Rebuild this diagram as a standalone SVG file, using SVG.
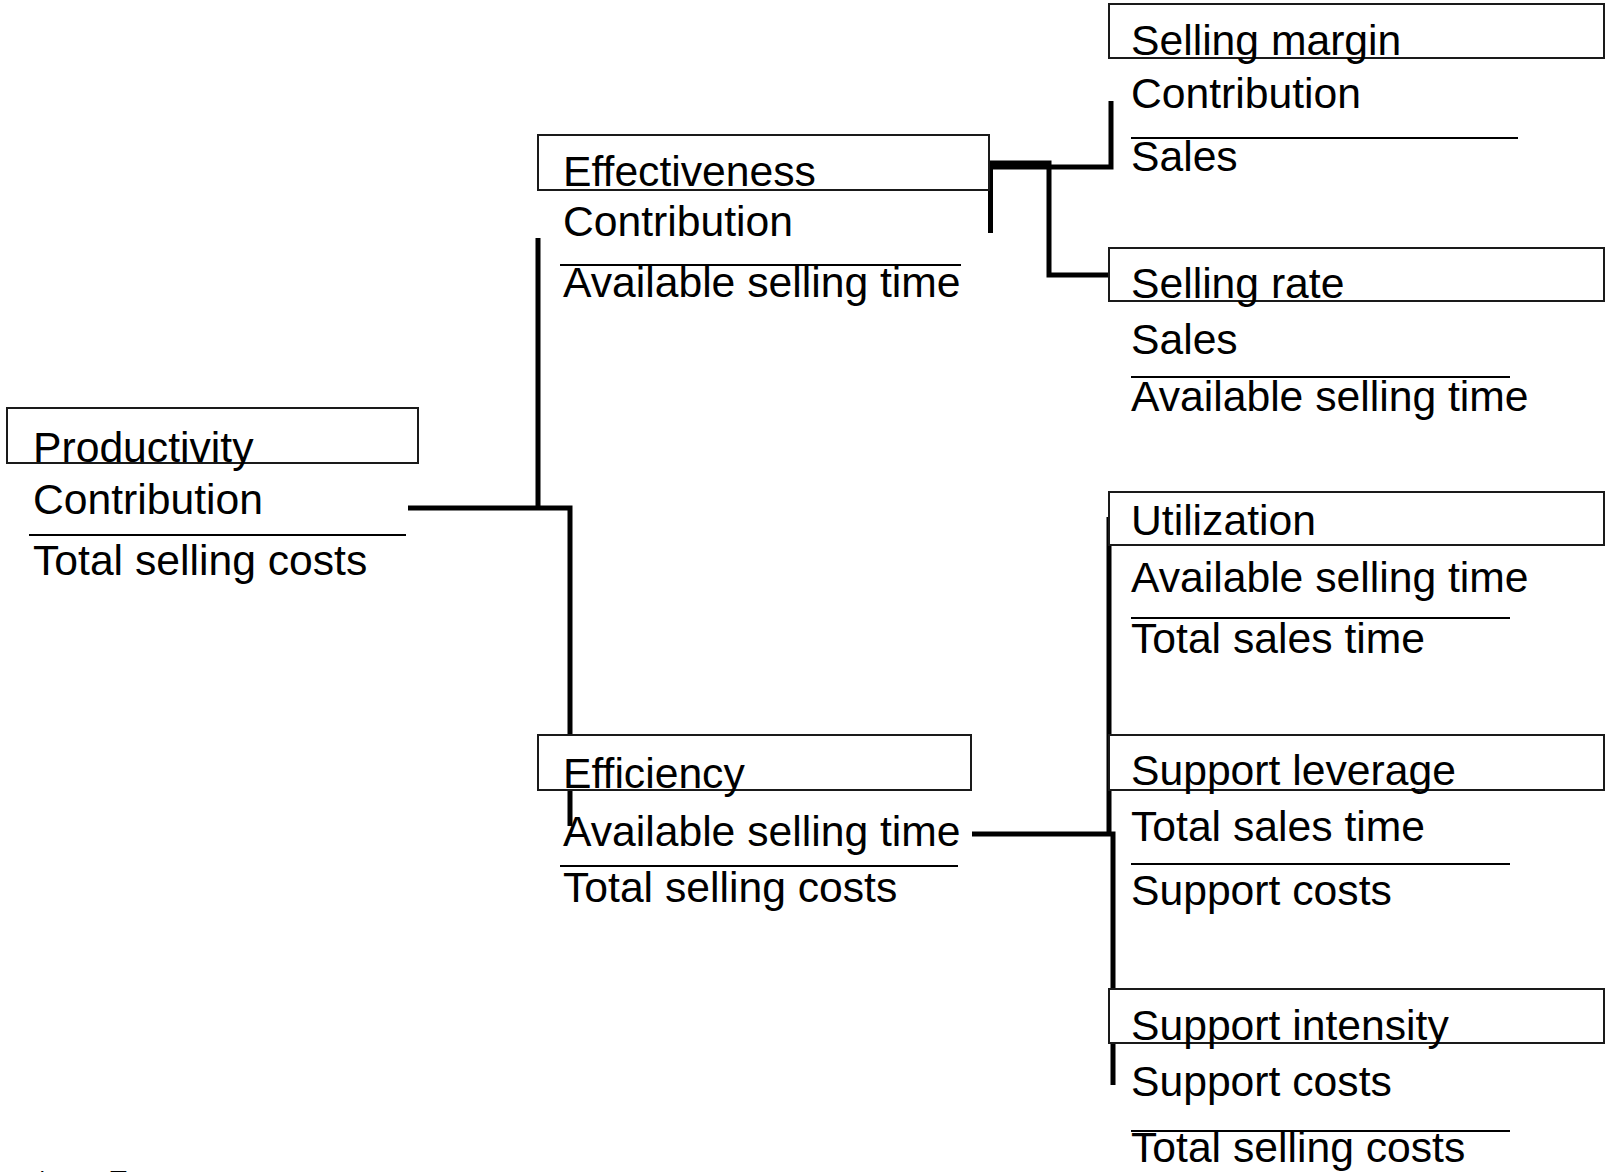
<svg xmlns="http://www.w3.org/2000/svg" width="1608" height="1172" viewBox="0 0 1608 1172">
<style>
.box{fill:#fff;stroke:#1a1a1a;stroke-width:2}
.t{font-family:"Liberation Sans",Arial,sans-serif;font-size:42.67px;fill:#000}
.fn{font-family:"Liberation Sans",Arial,sans-serif;font-size:32px;fill:#000}
.frac{stroke:#000;stroke-width:2}
.conn{fill:none;stroke:#000;stroke-width:5}
</style>
<rect width="1608" height="1172" fill="#fff"/>
<g id="connectors">
<path class="conn" d="M408,508 H570 V826"/>
<path class="conn" d="M538,238 V508"/>
<path class="conn" d="M990.5,233 V163 H1049 V275 H1109"/>
<path class="conn" d="M990,167 H1111 V101"/>
<path class="conn" d="M972,834 H1113 V1085"/>
<path class="conn" d="M1109,517 V834"/>
</g>
<g id="productivity">
<rect class="box" x="7" y="408" width="411" height="55"/>
<text class="t" x="33" y="462">Productivity</text>
<text class="t" x="33" y="514">Contribution</text>
<line class="frac" x1="29" y1="535" x2="406" y2="535"/>
<text class="t" x="33" y="575">Total selling costs</text>
</g>
<g id="effectiveness">
<rect class="box" x="538" y="135" width="451" height="55"/>
<text class="t" x="563" y="186">Effectiveness</text>
<text class="t" x="563" y="236">Contribution</text>
<line class="frac" x1="560" y1="265" x2="961" y2="265"/>
<text class="t" x="563" y="297">Available selling time</text>
</g>
<g id="efficiency">
<rect class="box" x="538" y="735" width="433" height="55"/>
<text class="t" x="563" y="788">Efficiency</text>
<text class="t" x="563" y="846">Available selling time</text>
<line class="frac" x1="560" y1="866" x2="958" y2="866"/>
<text class="t" x="563" y="902">Total selling costs</text>
</g>
<g id="selling-margin">
<rect class="box" x="1109" y="4" width="495" height="54"/>
<text class="t" x="1131" y="55">Selling margin</text>
<text class="t" x="1131" y="108">Contribution</text>
<line class="frac" x1="1131" y1="138" x2="1518" y2="138"/>
<text class="t" x="1131" y="171">Sales</text>
</g>
<g id="selling-rate">
<rect class="box" x="1109" y="248" width="495" height="53"/>
<text class="t" x="1131" y="298">Selling rate</text>
<text class="t" x="1131" y="354">Sales</text>
<line class="frac" x1="1131" y1="377" x2="1510" y2="377"/>
<text class="t" x="1131" y="411">Available selling time</text>
</g>
<g id="utilization">
<rect class="box" x="1109" y="492" width="495" height="53"/>
<text class="t" x="1131" y="535">Utilization</text>
<text class="t" x="1131" y="592">Available selling time</text>
<line class="frac" x1="1131" y1="618" x2="1510" y2="618"/>
<text class="t" x="1131" y="653">Total sales time</text>
</g>
<g id="support-leverage">
<rect class="box" x="1109" y="735" width="495" height="55"/>
<text class="t" x="1131" y="785">Support leverage</text>
<text class="t" x="1131" y="841">Total sales time</text>
<line class="frac" x1="1131" y1="864" x2="1510" y2="864"/>
<text class="t" x="1131" y="905">Support costs</text>
</g>
<g id="support-intensity">
<rect class="box" x="1109" y="989" width="495" height="54"/>
<text class="t" x="1131" y="1040">Support intensity</text>
<text class="t" x="1131" y="1096">Support costs</text>
<line class="frac" x1="1131" y1="1131" x2="1510" y2="1131"/>
<text class="t" x="1131" y="1162">Total selling costs</text>
</g>
<g id="footnote">
<text class="fn" x="36" y="1193">*</text>
<text class="fn" x="108" y="1193">Footnote</text>
</g>
</svg>
